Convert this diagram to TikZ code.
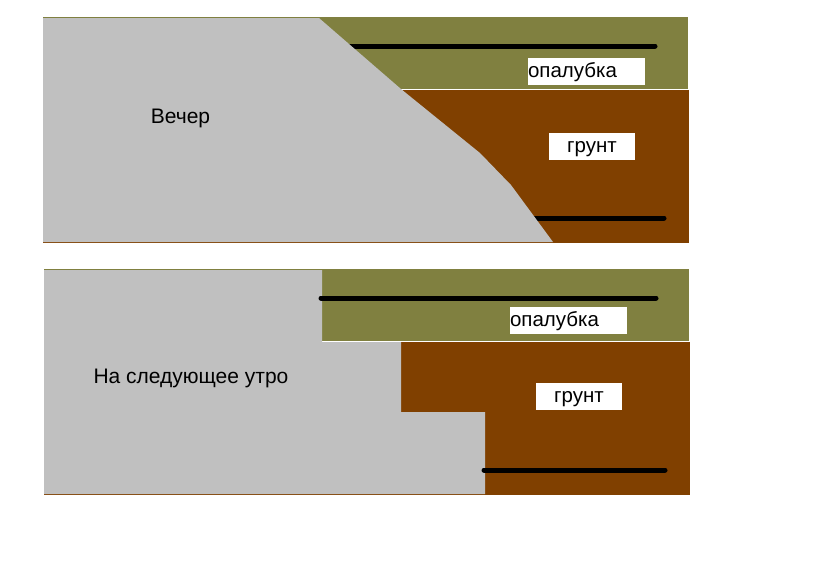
\documentclass[tikz,border=0pt]{standalone}
\usepackage{fontspec}
\setmainfont{Liberation Sans}
\definecolor{formcolor}{RGB}{128,128,64}
\definecolor{soilcolor}{RGB}{128,64,0}
\definecolor{concretecolor}{RGB}{192,192,192}

\begin{document}
\begin{tikzpicture}[x=1pt,y=-1pt,font=\fontsize{20.5}{22}\selectfont]
  \tikzstyle{form}=[fill=formcolor]
  \tikzstyle{soil}=[fill=soilcolor]
  \tikzstyle{concrete}=[fill=concretecolor]
  \tikzstyle{bar}=[draw=black,line width=5pt,line cap=round]
  \tikzstyle{labelbox}=[fill=white,inner sep=0pt,minimum height=27pt,text height=16pt,text depth=4pt]
  \tikzstyle{formbox}=[labelbox,text width=117pt,align=left]
  \tikzstyle{soilbox}=[labelbox,text width=86pt,align=center]
  \tikzstyle{title}=[font=\fontsize{21}{23}\selectfont]

  \useasboundingbox (0,0) rectangle (819,566);

  % evening
  \path[form] (43,17) rectangle (688,88.5);
  \path[soil] (43,90) rectangle (689,243);
  \coordinate (bar1a) at (350,46);
  \coordinate (bar1b) at (655,46);
  \coordinate (bar2a) at (530,218);
  \coordinate (bar2b) at (664,218);
  \draw[bar] (bar1a) -- (bar1b);
  \draw[bar] (bar2a) -- (bar2b);
  \path[concrete] (43,18) -- (319,18) -- (401,89) -- (480,153) -- (511,185)
                  -- (553,242) -- (43,242) -- cycle;
  \node[formbox] (form1) at (586.5,71)   {опалубка};
  \node[soilbox] (soil1) at (592,146)    {грунт};
  \node[title] (title1) at (180.5,118)   {Вечер};

  % next morning
  \path[form] (44,269) rectangle (689,341);
  \path[soil] (44,342) rectangle (690,495);
  \path[concrete] (44,270) -- (322,270) -- (322,342) -- (401,342) -- (401,412)
                  -- (485,412) -- (485,494) -- (44,494) -- cycle;
  \coordinate (bar3a) at (321,298);
  \coordinate (bar3b) at (656,298);
  \coordinate (bar4a) at (484,470);
  \coordinate (bar4b) at (665,470);
  \draw[bar] (bar3a) -- (bar3b);
  \draw[bar] (bar4a) -- (bar4b);
  \node[formbox] (form2) at (568.5,320)  {опалубка};
  \node[soilbox] (soil2) at (579,396)    {грунт};
  \node[title] (title2) at (191,378)     {На следующее утро};
\end{tikzpicture}
\end{document}
